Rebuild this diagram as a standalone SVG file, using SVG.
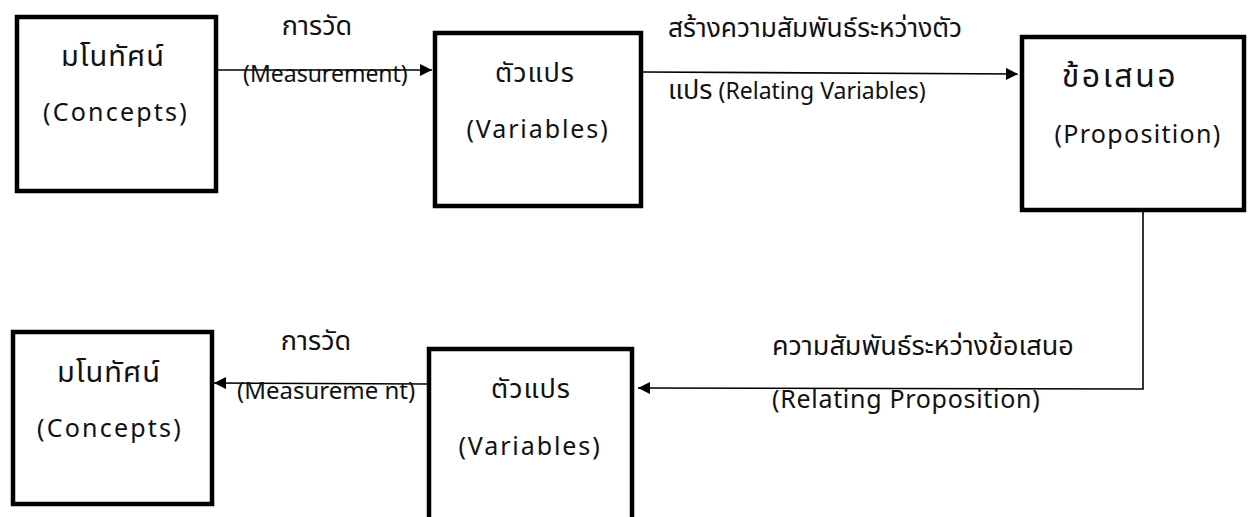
<svg xmlns="http://www.w3.org/2000/svg" width="1248" height="517" viewBox="0 0 1248 517">
<style>
  .box { fill: #fff; stroke: #000; stroke-width: 4.5; }
  .t { font-family: "Noto Sans", "Noto Sans Thai", "DejaVu Sans", sans-serif; fill: #111; }
  .nl { font-size: 25px; text-anchor: middle; letter-spacing: 2.2px; }
  .nth { font-size: 29px; text-anchor: middle; letter-spacing: 1px; }
  .el { font-size: 23px; }
  .eth { font-size: 27px; }
  .c { fill: none; stroke: #000; stroke-width: 1.6; }
</style>
<defs>
  <marker id="ah" viewBox="0 0 12 12" refX="12" refY="6" markerWidth="13" markerHeight="12" markerUnits="userSpaceOnUse" orient="auto">
    <path d="M0,0 L12,6 L0,12 z" fill="#000"/>
  </marker>
</defs>
<rect width="1248" height="517" fill="#fff"/>

<g id="connectors">
  <line class="c" x1="218" y1="70" x2="432" y2="70" marker-end="url(#ah)"/>
  <line class="c" x1="643" y1="72" x2="1018" y2="74" marker-end="url(#ah)"/>
  <polyline class="c" points="1143,212 1143,389 638,388" marker-end="url(#ah)"/>
  <line class="c" x1="427" y1="384" x2="214" y2="383" marker-end="url(#ah)"/>
</g>

<g id="labels">
  <text class="t eth" x="317" y="35" text-anchor="middle">การวัด</text>
  <text class="t el" x="243" y="82">(Measurement)</text>
  <text class="t eth" x="668" y="37" style="font-size:26.4px">สร้างความสัมพันธ์ระหว่างตัว</text>
  <text class="t el" x="668" y="99"><tspan class="eth">แปร</tspan> (Relating Variables)</text>
  <text class="t eth" x="772" y="355">ความสัมพันธ์ระหว่างข้อเสนอ</text>
  <text class="t el" x="772" y="408" style="font-size:25px;letter-spacing:0.7px">(Relating Proposition)</text>
  <text class="t eth" x="316" y="350" text-anchor="middle">การวัด</text>
  <text class="t el" x="237" y="399" style="font-size:24px">(Measureme nt)</text>
</g>

<g id="concepts-top">
  <rect class="box" x="17" y="17" width="199" height="174"/>
  <text class="t nth" x="113" y="66">มโนทัศน์</text>
  <text class="t nl" x="116" y="121">(Concepts)</text>
</g>

<g id="variables-top">
  <rect class="box" x="435" y="33" width="206" height="173"/>
  <text class="t nth" x="535" y="82" style="font-size:27px">ตัวแปร</text>
  <text class="t nl" x="538" y="138" style="letter-spacing:1.9px">(Variables)</text>
</g>

<g id="proposition">
  <rect class="box" x="1022" y="37" width="222" height="173"/>
  <text class="t nth" x="1120" y="87" style="font-size:32px;letter-spacing:2.5px">ข้อเสนอ</text>
  <text class="t nl" x="1138" y="143" style="letter-spacing:1.3px">(Proposition)</text>
</g>

<g id="concepts-bottom">
  <rect class="box" x="13" y="332" width="199" height="172"/>
  <text class="t nth" x="109" y="382">มโนทัศน์</text>
  <text class="t nl" x="110" y="437">(Concepts)</text>
</g>

<g id="variables-bottom">
  <rect class="box" x="429" y="349" width="203" height="180"/>
  <text class="t nth" x="531" y="398" style="font-size:27px">ตัวแปร</text>
  <text class="t nl" x="530" y="455" style="letter-spacing:1.9px">(Variables)</text>
</g>
</svg>
